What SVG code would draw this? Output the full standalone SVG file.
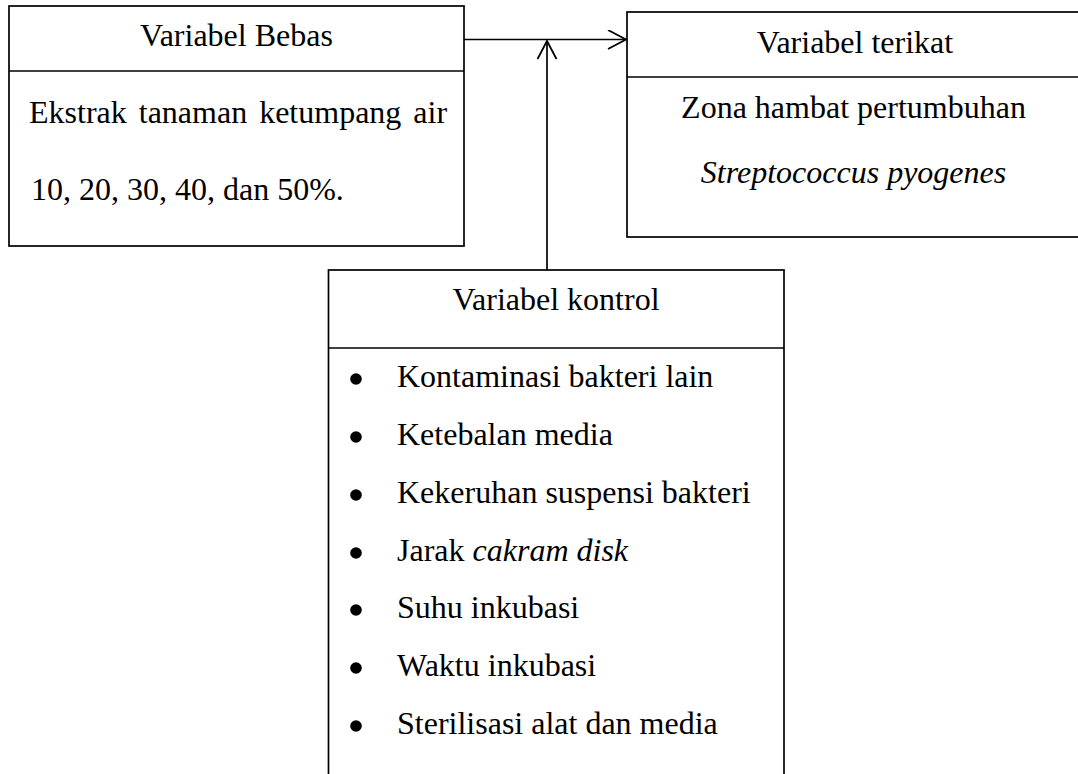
<svg xmlns="http://www.w3.org/2000/svg" width="1078" height="774" viewBox="0 0 1078 774">
<style>
.box{fill:#fff;stroke:#000;stroke-width:1.7}
.ln{stroke:#000;stroke-width:1.7;fill:none}
.t{font-family:"Liberation Serif","Times New Roman",serif;font-size:32px;fill:#000}
.c{text-anchor:middle}
.i{font-style:italic}
</style>
<defs>
<marker id="ah" markerWidth="24" markerHeight="24" refX="19" refY="10" orient="auto" markerUnits="userSpaceOnUse">
<path d="M1,0.5 L19,10 L1,19.5" fill="none" stroke="#000" stroke-width="1.8"/>
</marker>
</defs>
<rect width="1078" height="774" fill="#fff"/>
<g id="bebas">
<rect class="box" x="9" y="6" width="455" height="240"/>
<line class="ln" x1="9" y1="71" x2="464" y2="71"/>
<text class="t c" x="236.5" y="46">Variabel Bebas</text>
<text class="t" x="29" y="123" word-spacing="4">Ekstrak tanaman ketumpang air</text>
<text class="t" x="31" y="200">10, 20, 30, 40, dan 50%.</text>
</g>
<g id="terikat">
<rect class="box" x="627" y="12" width="460" height="225"/>
<line class="ln" x1="627" y1="77" x2="1087" y2="77"/>
<text class="t c" x="855" y="53">Variabel terikat</text>
<text class="t c" x="853.5" y="118">Zona hambat pertumbuhan</text>
<text class="t c i" x="853.5" y="183">Streptococcus pyogenes</text>
</g>
<g id="kontrol">
<rect class="box" x="328.5" y="270" width="455.5" height="520"/>
<line class="ln" x1="328.5" y1="348" x2="784" y2="348"/>
<text class="t c" x="556" y="310">Variabel kontrol</text>
<g fill="#000">
<circle cx="356" cy="379" r="5.8"/>
<circle cx="356" cy="437" r="5.8"/>
<circle cx="356" cy="495" r="5.8"/>
<circle cx="356" cy="553" r="5.8"/>
<circle cx="356" cy="610" r="5.8"/>
<circle cx="356" cy="668" r="5.8"/>
<circle cx="356" cy="726" r="5.8"/>
</g>
<text class="t" x="397" y="387">Kontaminasi bakteri lain</text>
<text class="t" x="397" y="445">Ketebalan media</text>
<text class="t" x="397" y="503">Kekeruhan suspensi bakteri</text>
<text class="t" x="397" y="561">Jarak <tspan class="i">cakram disk</tspan></text>
<text class="t" x="397" y="618">Suhu inkubasi</text>
<text class="t" x="397" y="676">Waktu inkubasi</text>
<text class="t" x="397" y="734">Sterilisasi alat dan media</text>
</g>
<g id="connectors">
<line class="ln" x1="464" y1="39.5" x2="626" y2="39.5" marker-end="url(#ah)"/>
<line class="ln" x1="547" y1="270" x2="547" y2="41" marker-end="url(#ah)"/>
</g>
</svg>
